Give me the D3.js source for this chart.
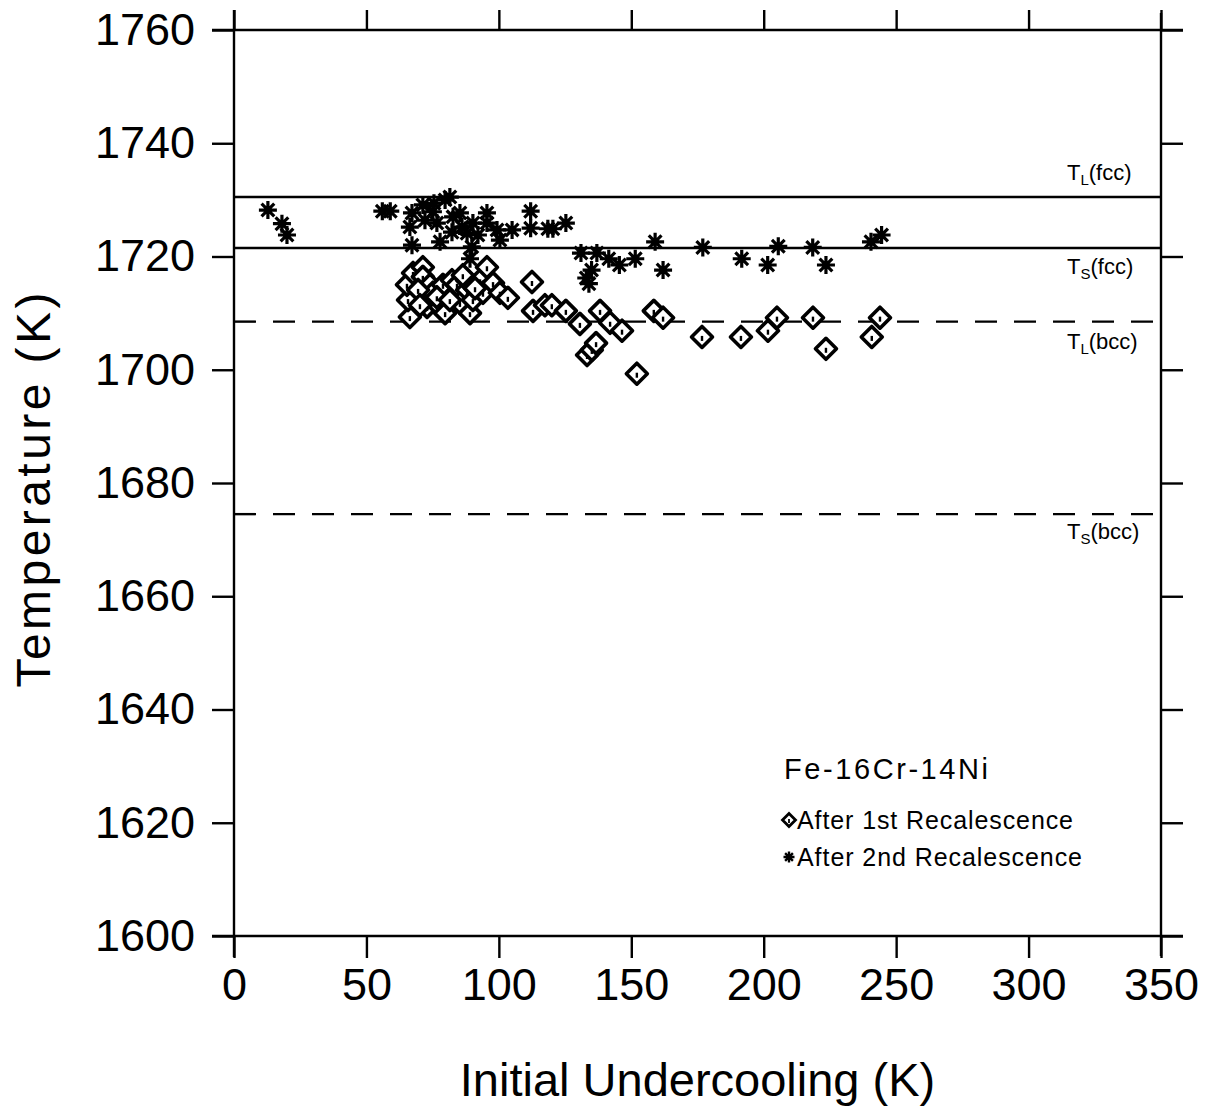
<!DOCTYPE html>
<html>
<head>
<meta charset="utf-8">
<script src="https://cdn.jsdelivr.net/npm/d3@7"></script>
<style>
  html, body { margin: 0; padding: 0; background: #fff; }
  svg { display: block; font-family: "Liberation Sans", Arial, Helvetica, sans-serif; }
</style>
</head>
<body>
<svg id="chart" width="1211" height="1109"></svg>
<script>
// ---------- data ----------
const xTicks = [0, 50, 100, 150, 200, 250, 300, 350];
const yTicks = [1600, 1620, 1640, 1660, 1680, 1700, 1720, 1740, 1760];
const xLabel = "Initial Undercooling (K)";
const yLabel = "Temperature (K)";
const alloyName = "Fe-16Cr-14Ni";
const seriesNames = ["After 1st Recalescence", "After 2nd Recalescence"];

// reference temperatures
const refSub = ["L", "S", "L", "S"];
const refPhase = ["fcc", "fcc", "bcc", "bcc"];
const refTemp = [1730.5, 1721.5, 1708.5, 1674.5];

// After 1st recalescence (diamonds): [undercooling, temperature]
const firstRecal = [
  [66.4,1709.3],[65.7,1712.3],[65.3,1715.0],[67.6,1717.1],[71.3,1718.1],[71.3,1716.4],
  [74.0,1715.0],[75.1,1713.6],[72.9,1711.1],[77.8,1711.1],[79.7,1710.0],[78.9,1715.0],
  [82.3,1715.8],[84.2,1713.7],[84.2,1715.0],[85.3,1711.8],[88.0,1714.1],[88.0,1715.8],
  [89.1,1710.0],[90.2,1712.3],[92.9,1715.8],[94.0,1713.6],[95.5,1718.1],[97.8,1715.3],
  [100.4,1713.6],[103.4,1712.7],[69.5,1714.1],[76.6,1712.8],[81.5,1712.3],[91.0,1714.4],
  [70.2,1711.4],[86.4,1716.7],
  [112.5,1715.5],[112.9,1710.4],[117.4,1711.4],[120.0,1711.4],[125.3,1710.4],[130.6,1708.1],
  [133.3,1702.6],[135.1,1703.5],[136.7,1704.7],[138.2,1710.4],[142.0,1708.3],[146.5,1706.9],
  [152.1,1699.3],[158.5,1710.4],[162.0,1709.2],[176.7,1705.8],[191.4,1705.8],[201.6,1706.9],
  [205.0,1709.2],[218.6,1709.2],[223.5,1703.7],[240.8,1705.8],[243.9,1709.2]
];

// After 2nd recalescence (asterisks): [undercooling, temperature]
const secondRecal = [
  [12.8,1728.2],[18.1,1725.8],[20.0,1723.8],[56.0,1728.0],[59.0,1728.0],
  [66.4,1725.2],[67.2,1727.7],[67.2,1722.0],[71.3,1729.1],[72.1,1726.4],[75.1,1727.9],
  [75.5,1729.4],[76.6,1725.9],[77.8,1722.6],[79.7,1730.0],[81.5,1730.5],[82.7,1727.0],
  [82.3,1724.3],[85.3,1727.7],[86.1,1725.2],[88.0,1724.1],[89.1,1719.6],[89.8,1721.7],
  [90.2,1725.9],[92.1,1723.8],[95.5,1727.7],[95.5,1725.9],[99.3,1724.7],[100.4,1722.9],
  [105.0,1724.7],[112.0,1728.0],[112.0,1725.0],[118.5,1724.9],[120.4,1724.9],[125.3,1725.9],
  [131.0,1720.6],[137.0,1720.6],[141.5,1719.6],[145.5,1718.5],[151.5,1719.6],[135.0,1717.6],
  [133.0,1716.2],[134.0,1715.2],[159.0,1722.6],[162.0,1717.6],[177.0,1721.6],[191.7,1719.6],
  [201.5,1718.5],[205.5,1721.8],[218.5,1721.6],[223.5,1718.5],[240.5,1722.6],[244.5,1723.8]
];

// ---------- layout ----------
const svg = d3.select("#chart");
const L = 234, R = 1161, T = 30, B = 936;
const x = d3.scaleLinear().domain([0, 350]).range([L, R]);
const y = d3.scaleLinear().domain([1600, 1760]).range([B, T]);
const AX = 2.4;
const ext = 22;

// frame lines (extended past the corners)
const frame = svg.append("g").attr("stroke", "#000").attr("stroke-width", AX);
frame.append("line").attr("x1", L).attr("x2", L).attr("y1", T - 20).attr("y2", B + 21);
frame.append("line").attr("x1", R).attr("x2", R).attr("y1", T - 17).attr("y2", B + 20);
frame.append("line").attr("x1", L - 22).attr("x2", R + 22).attr("y1", T).attr("y2", T);
frame.append("line").attr("x1", L - 22).attr("x2", R + 22).attr("y1", B).attr("y2", B);

function styleAxis(g) {
  g.select(".domain").remove();
  g.selectAll(".tick line").attr("stroke", "#000").attr("stroke-width", AX);
  g.selectAll(".tick text").attr("fill", "#000").attr("font-size", 45)
    .attr("font-family", '"Liberation Sans", Arial, sans-serif');
}

svg.append("g").attr("transform", `translate(${L},0)`)
  .call(d3.axisLeft(y).tickValues(yTicks).tickSize(ext).tickPadding(17).tickFormat(d3.format("d")))
  .call(styleAxis);
svg.append("g").attr("transform", `translate(${R},0)`)
  .call(d3.axisRight(y).tickValues(yTicks).tickSize(ext).tickFormat(""))
  .call(styleAxis);
svg.append("g").attr("transform", `translate(0,${B})`)
  .call(d3.axisBottom(x).tickValues(xTicks).tickSize(ext).tickPadding(10).tickFormat(d3.format("d")))
  .call(styleAxis);
svg.append("g").attr("transform", `translate(0,${T})`)
  .call(d3.axisTop(x).tickValues(xTicks).tickSize(ext - 2).tickFormat(""))
  .call(styleAxis);

// axis titles
svg.append("text").attr("x", x(175)).attr("y", 1096).attr("text-anchor", "middle")
  .attr("font-size", 47).attr("fill", "#000").text(xLabel);
svg.append("text").attr("transform", `translate(50,${490}) rotate(-90)`).attr("text-anchor", "middle")
  .attr("font-size", 48).attr("textLength", 395).attr("lengthAdjust", "spacing")
  .attr("fill", "#000").text(yLabel);

// reference lines
const refData = refTemp.map((v, i) => ({ v, sub: refSub[i], phase: refPhase[i] }));
svg.append("g").selectAll("line").data(refData).join("line")
  .attr("x1", x(0)).attr("x2", x(350))
  .attr("y1", d => y(d.v)).attr("y2", d => y(d.v))
  .attr("stroke", "#000").attr("stroke-width", 2.4)
  .attr("stroke-dasharray", d => d.phase === "bcc" ? "22,17" : null);

const refLabelDy = [-17, 26, 27, 25];
const refLabels = svg.append("g").selectAll("text").data(refData).join("text")
  .attr("x", 1067).attr("y", (d, i) => y(d.v) + refLabelDy[i])
  .attr("font-size", 22).attr("fill", "#000");
refLabels.append("tspan").text("T");
refLabels.append("tspan").attr("font-size", 15).attr("dy", 5).text(d => d.sub);
refLabels.append("tspan").attr("dy", -5).text(d => "(" + d.phase + ")");

// markers
const diamondPath = s => `M0,${-s}L${s},0L0,${s}L${-s},0Z`;
function starPath(s) {
  let p = "";
  for (let k = 0; k < 4; k++) {
    const a = k * Math.PI / 4;
    const dx = Math.sin(a) * s, dy = -Math.cos(a) * s;
    p += `M${(-dx).toFixed(2)},${(-dy).toFixed(2)}L${dx.toFixed(2)},${dy.toFixed(2)}`;
  }
  return p;
}

const dG = svg.append("g").selectAll("g").data(firstRecal).join("g")
  .attr("transform", d => `translate(${x(d[0])},${y(d[1])})`);
dG.append("path").attr("d", diamondPath(10.5)).attr("fill", "#fff")
  .attr("stroke", "#000").attr("stroke-width", 3.6).attr("stroke-linejoin", "round");
dG.append("line").attr("x1", 0).attr("x2", 0).attr("y1", -1).attr("y2", 4)
  .attr("stroke", "#000").attr("stroke-width", 2.4);

svg.append("g").selectAll("path").data(secondRecal).join("path")
  .attr("transform", d => `translate(${x(d[0])},${y(d[1])})`)
  .attr("d", starPath(9)).attr("stroke", "#000").attr("stroke-width", 3.2).attr("fill", "none");

// legend
svg.append("text").attr("x", 784).attr("y", 779).attr("font-size", 29)
  .attr("textLength", 204).attr("lengthAdjust", "spacing").attr("fill", "#000").text(alloyName);

const lg1 = svg.append("g").attr("transform", "translate(789,820)");
lg1.append("path").attr("d", diamondPath(6.5)).attr("fill", "#fff").attr("stroke", "#000").attr("stroke-width", 2.8);
lg1.append("line").attr("x1", 0).attr("x2", 0).attr("y1", -1).attr("y2", 3).attr("stroke", "#000").attr("stroke-width", 1.8);
svg.append("text").attr("x", 797).attr("y", 829).attr("font-size", 25)
  .attr("textLength", 276).attr("lengthAdjust", "spacing").attr("fill", "#000").text(seriesNames[0]);

svg.append("path").attr("transform", "translate(789,857)").attr("d", starPath(5.5))
  .attr("stroke", "#000").attr("stroke-width", 2.4);
svg.append("text").attr("x", 797).attr("y", 866).attr("font-size", 25)
  .attr("textLength", 285).attr("lengthAdjust", "spacing").attr("fill", "#000").text(seriesNames[1]);
</script>
</body>
</html>
